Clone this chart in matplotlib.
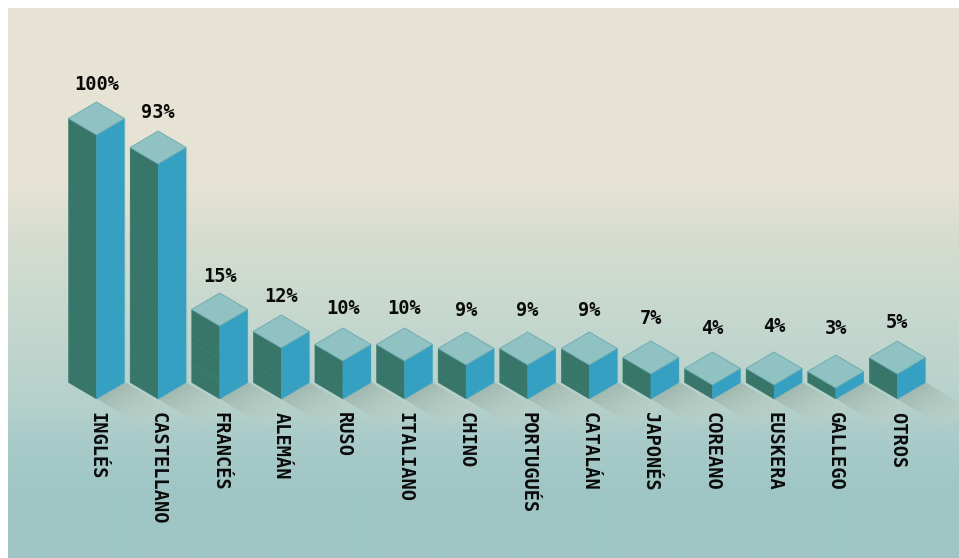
#!/usr/bin/env python
import numpy as np
import matplotlib
matplotlib.use("Agg")
import matplotlib.pyplot as plt
from matplotlib.colors import to_rgb
from matplotlib.patches import Polygon
from matplotlib.transforms import Affine2D, IdentityTransform

languages = ["INGLÉS", "CASTELLANO", "FRANCÉS", "ALEMÁN", "RUSO", "ITALIANO", "CHINO",
             "PORTUGUÉS", "CATALÁN", "JAPONÉS", "COREANO", "EUSKERA", "GALLEGO", "OTROS"]
percent = [100, 93, 15, 12, 10, 10, 9, 9, 9, 7, 4, 4, 3, 5]

# the height axis is not linear: small shares are stretched
scale_values = [0, 3, 4, 5, 7, 9, 10, 12, 15, 93, 100]
scale_heights = [0, 11, 14, 24.9, 25, 34, 38, 51, 73, 235, 264]

# faint joints on the left face of each column, px above its base
seams = [[177, 156, 77], [137, 89], [47, 40, 20, 17], [25, 18], [12], [12], [7], [7], [7],
         [], [], [], [], [11]]
label_gap = [18, 18, 17, 19, 20, 20, 22, 22, 22, 23, 23, 25, 26, 19]

W, H = 959, 558
HALF_W = 28
HALF_H = 16.5
SPACING = 61.6
CENTER0 = 96.5
BASE_Y = 382.5
SHADOW = (46, 27.6)

LEFT_C = "#38766a"
RIGHT_C = "#35a0c1"
TOP_C = "#90c2c4"
EDGE_C = "#6aa9ac"
HALO_C = "#a9d2d3"
SEAM_C = "#3d8480"

fig = plt.figure(figsize=(W / 100, H / 100), dpi=100, facecolor="white")

# backdrop gradient
bg = fig.add_axes([8 / W, 0, (W - 8) / W, (H - 8) / H])
rows = np.arange(8, H)
stops_y = [8, 185, 240, 300, 400, 440, 490, 558]
stops_c = np.array([to_rgb(c) for c in ["#e7e4d6", "#e6e3d5", "#d6dcd0", "#c9d9cf", "#b6d1cb",
                                        "#a9cbc9", "#9fc6c5", "#9fc6c5"]])
grad = np.stack([np.interp(rows, stops_y, stops_c[:, k]) for k in range(3)], axis=1)
bg.imshow(grad[:, None, :], aspect="auto", interpolation="bilinear")
bg.axis("off")

ax = fig.add_axes([(CENTER0 - 0.5 * SPACING) / W, (H - BASE_Y) / H,
                   14 * SPACING / W, scale_heights[-1] / H])
ax.patch.set_visible(False)
ax.set_yscale("function", functions=(lambda v: np.interp(v, scale_values, scale_heights),
                                     lambda h: np.interp(h, scale_heights, scale_values)))
ax.set_xlim(-0.5, 13.5)
ax.set_ylim(0, 100)
for s in ax.spines.values():
    s.set_visible(False)
ax.yaxis.set_visible(False)


def face(pts, **kw):
    ax.add_patch(Polygon(pts, closed=True, transform=IdentityTransform(), clip_on=False, **kw))


# shadows go underneath every column, fading away from it
c0, c1 = np.array(to_rgb("#9bb3ab")), np.array(to_rgb("#c3d3c6"))
fade = np.linspace(0, 1, 64)[:, None]
shade = np.zeros((64, 1, 4))
shade[:, :, :3] = (c0 + (c1 - c0) * fade)[:, None, :]
shade[:, :, 3] = 0.8 - 0.5 * fade
for i in range(len(percent)):
    x, y = ax.transData.transform((i, 0))
    to_display = Affine2D.from_values(HALF_W, HALF_H, SHADOW[0], -SHADOW[1], x, y - HALF_H)
    ax.imshow(shade, extent=(0, 1, 0, 1), origin="lower", aspect="auto", interpolation="bilinear",
              transform=to_display, zorder=1, clip_on=False)

for i, v in enumerate(percent):
    x, y0 = ax.transData.transform((i, 0))
    _, y1 = ax.transData.transform((i, v))
    face([(x - HALF_W, y0), (x, y0 - HALF_H), (x, y1 - HALF_H), (x - HALF_W, y1)],
         facecolor=LEFT_C, edgecolor=LEFT_C, lw=0.3, zorder=3)
    face([(x + HALF_W, y0), (x, y0 - HALF_H), (x, y1 - HALF_H), (x + HALF_W, y1)],
         facecolor=RIGHT_C, edgecolor=RIGHT_C, lw=0.3, zorder=3)
    face([(x, y1 + HALF_H), (x + HALF_W, y1), (x, y1 - HALF_H), (x - HALF_W, y1)],
         facecolor=TOP_C, edgecolor=EDGE_C, lw=0.6, zorder=4)
    for s in seams[i]:
        ax.plot([x - HALF_W, x], [y0 + s, y0 + s - HALF_H], transform=IdentityTransform(),
                color=SEAM_C, lw=0.5, ls=(0, (2, 1)), zorder=3.5, clip_on=False)
    # pale rim on the outer sides
    for side in (-1, 1):
        ax.plot([x + side * (HALF_W + 0.4)] * 2, [y0, y1], transform=IdentityTransform(),
                color=HALO_C, lw=0.6, alpha=0.45, zorder=2.5, clip_on=False)
    ax.annotate(f"{v}%", xy=(i, v), xytext=(0, (HALF_H + label_gap[i]) * 0.72),
                textcoords="offset points", ha="center", va="center",
                family="DejaVu Sans Mono", weight="bold", fontsize=13.4, color="#0a0a0a", zorder=5)

ax.set_xticks(range(len(languages)))
ax.set_xticklabels(languages, rotation=270, va="top", ha="center",
                   family="DejaVu Sans Mono", weight="bold", fontsize=13.4, color="#0a0a0a")
ax.tick_params(axis="x", length=0, pad=21)

fig.savefig("out.png", dpi=100)
